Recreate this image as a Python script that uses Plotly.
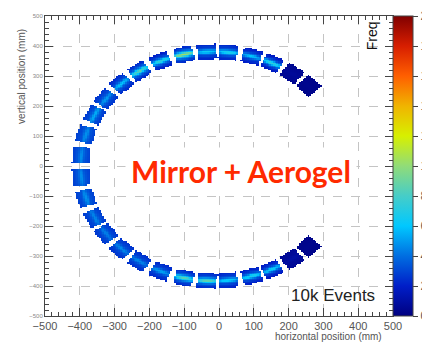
import numpy as np
import plotly.graph_objects as go

# ---- data ----
ring_center_mm = [-15.0, 0.0]
ring_radius_mm = 382.0
pad_half_tangential_mm = 27.0
pad_half_radial_mm = 25.0

pad_angle_deg = [44.5, 54, 64, 73.5, 83.8, 93, 103, 113.5, 124, 134, 144, 153.5, 164, 174.5,
                 185.5, 196, 206.5, 216, 226, 236, 246.5, 257, 267, 276.2, 286.5, 296, 306, 315.5]
pad_peak_freq = [4, 7, 75, 60, 70, 65, 105, 75, 85, 60, 50, 55, 48, 48,
                 48, 48, 46, 44, 46, 46, 52, 85, 88, 65, 70, 65, 10, 4]
pad_edge_freq = [3, 5, 15, 18, 20, 20, 20, 18, 20, 22, 25, 26, 28, 28,
                 28, 28, 27, 26, 25, 24, 22, 20, 20, 20, 18, 16, 6, 3]

bin_edges_mm = np.arange(-500, 501, 5)
colorbar_ticks = [0, 20, 40, 60, 80, 100, 120, 140, 160, 180, 200]

colorscale = [
    [0.00, "rgb(0,0,128)"],
    [0.10, "rgb(0,30,200)"],
    [0.20, "rgb(0,110,225)"],
    [0.30, "rgb(0,200,255)"],
    [0.40, "rgb(70,205,200)"],
    [0.50, "rgb(145,220,120)"],
    [0.60, "rgb(215,240,0)"],
    [0.70, "rgb(240,180,0)"],
    [0.80, "rgb(255,95,0)"],
    [0.90, "rgb(215,30,0)"],
    [1.00, "rgb(128,0,0)"],
]

# ---- build the 2D histogram from the per-pad readings ----
xc = (bin_edges_mm[:-1] + bin_edges_mm[1:]) / 2.0
yc = xc.copy()
X, Y = np.meshgrid(xc, yc)
Z = np.full(X.shape, np.nan)
for ang, peak, edge in zip(pad_angle_deg, pad_peak_freq, pad_edge_freq):
    th = np.radians(ang)
    cx = ring_center_mm[0] + ring_radius_mm * np.cos(th)
    cy = ring_center_mm[1] + ring_radius_mm * np.sin(th)
    dx, dy = X - cx, Y - cy
    rr = dx * np.cos(th) + dy * np.sin(th)
    tt = -dx * np.sin(th) + dy * np.cos(th)
    inside = (np.abs(tt) <= pad_half_tangential_mm) & (np.abs(rr) <= pad_half_radial_mm)
    prof = 0.45 * np.exp(-(rr / 16.0) ** 2) + 0.55 * np.exp(-(rr / 6.0) ** 2)
    taper = 1 - 0.35 * (tt / pad_half_tangential_mm) ** 2
    val = edge + (peak - edge) * prof * taper
    Z = np.where(inside, val, Z)
z_list = [[None if np.isnan(v) else float(v) for v in row] for row in Z]

fig = go.Figure()
fig.add_trace(go.Heatmap(
    x=xc, y=yc, z=z_list, zmin=0, zmax=200, colorscale=colorscale,
    zsmooth=False, hoverinfo="skip",
    colorbar=dict(x=1.0, xanchor="left", xpad=0, ypad=0, y=0.5, yanchor="middle",
                  len=1.0, lenmode="fraction", thickness=20, thicknessmode="pixels",
                  outlinewidth=1, outlinecolor="#444",
                  tickvals=colorbar_ticks, ticks="outside", ticklen=5, tickcolor="#444",
                  tickfont=dict(family="Liberation Sans", size=12, color="#555")),
))

axis_common = dict(
    range=[-500, 500], dtick=100, tick0=0, ticks="inside", ticklen=8, tickcolor="#444",
    showline=True, linecolor="#444", linewidth=1, mirror="ticks",
    showgrid=True, gridcolor="#c4c4c4", griddash="dash", gridwidth=1, zeroline=False,
    minor=dict(dtick=20, ticks="inside", ticklen=4, tickcolor="#444", showgrid=False),
)
fig.update_xaxes(**axis_common, tickfont=dict(family="Liberation Sans", size=11, color="#555"))
fig.update_yaxes(**axis_common, tickfont=dict(family="Liberation Sans", size=6, color="#888"))

# page body has an 8px margin, so the figure is 8px smaller and offset
fig.update_layout(
    width=422, height=335, margin=dict(l=37, r=37, t=8, b=27, autoexpand=False),
    paper_bgcolor="white", plot_bgcolor="white", showlegend=False,
    annotations=[
        dict(text="horizontal position (mm)", xref="paper", yref="paper", x=0.974, y=-0.068,
             xanchor="right", yanchor="middle", showarrow=False,
             font=dict(family="Liberation Sans", size=10, color="#555")),
        dict(text="vertical position (mm)", xref="paper", yref="paper", x=-0.066, y=0.797,
             xanchor="center", yanchor="middle", textangle=-90, showarrow=False,
             font=dict(family="Liberation Sans", size=10, color="#555")),
        dict(text="Freq", xref="paper", yref="paper", x=0.94, y=0.933,
             xanchor="center", yanchor="middle", textangle=-90, showarrow=False,
             font=dict(family="Liberation Sans", size=14, color="#111")),
        dict(text="10k Events", xref="paper", yref="paper", x=0.828, y=0.07,
             xanchor="center", yanchor="middle", showarrow=False,
             font=dict(family="Liberation Sans", size=17, color="#222")),
        dict(text="<b>Mirror + Aerogel</b>", xref="paper", yref="paper", x=0.563, y=0.485,
             xanchor="center", yanchor="middle", showarrow=False, bgcolor="white", borderpad=5,
             font=dict(family="Lato", size=30, color="#ff2a00")),
    ],
)

fig.write_html("out.html")
